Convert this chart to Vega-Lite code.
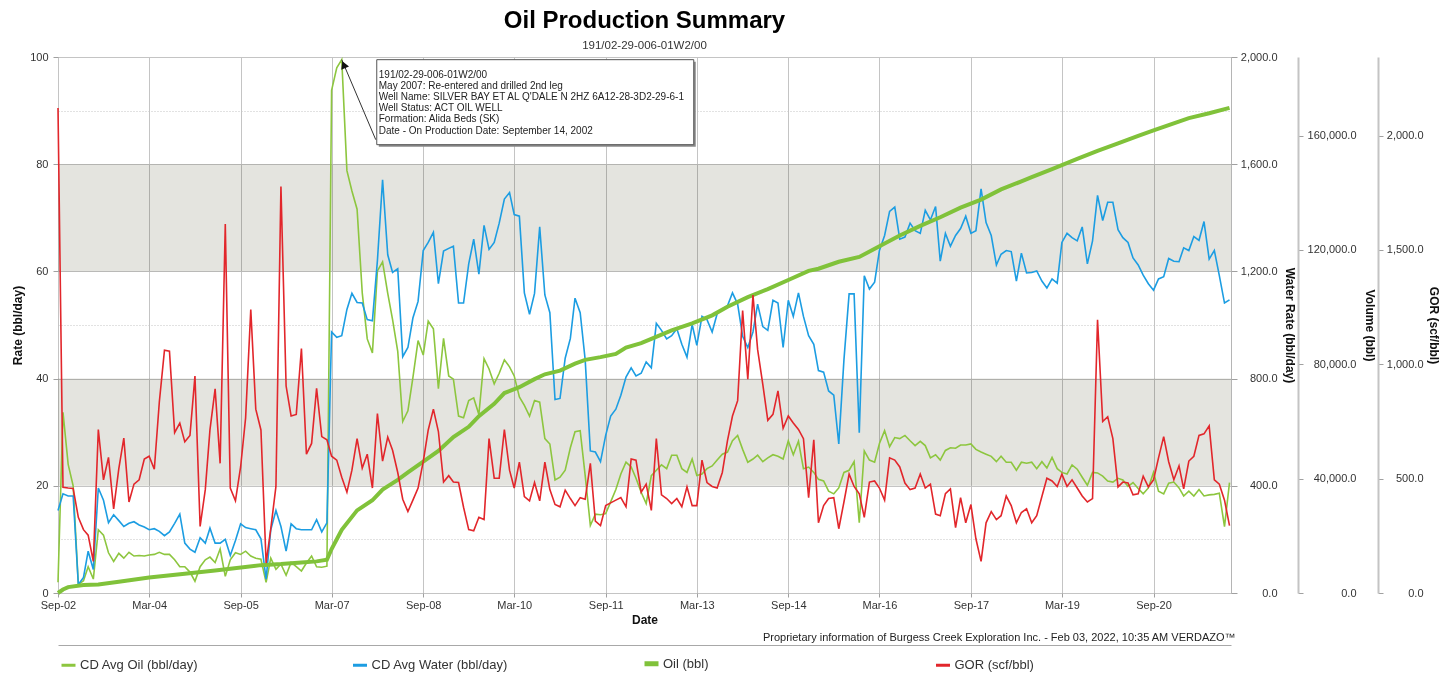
{
"$schema": "https://vega.github.io/schema/vega-lite/v6.json",
"width": 1173, "height": 536,
"autosize": "none",
"padding": {"left": 58, "top": 57, "right": 221, "bottom": 88},
"background": "white",
"title": {"text": "Oil Production Summary", "subtitle": "191/02-29-006-01W2/00", "anchor": "middle", "frame": "group", "font": "Liberation Sans", "fontSize": 24, "fontWeight": "bold", "color": "#000", "subtitleFont": "Liberation Sans", "subtitleFontSize": 11.5, "subtitleColor": "#333", "offset": 0, "subtitlePadding": 7},
"datasets": {
"bands": [{"lo": 20, "hi": 40}, {"lo": 60, "hi": 80}],
"note": [{"d": "2007-05", "p": 99.5, "t": "191/02-29-006-01W2/00\nMay 2007:  Re-entered and drilled 2nd leg\nWell Name: SILVER BAY ET AL Q'DALE N 2HZ 6A12-28-3D2-29-6-1\nWell Status: ACT OIL WELL\nFormation: Alida Beds (SK)\nDate - On Production Date: September 14, 2002"}],
"cum": [
{"d":"2002-09","v":0},{"d":"2002-10","v":1220},{"d":"2002-11","v":2060},{"d":"2003-02","v":2810},{"d":"2003-05","v":3000},{"d":"2003-09","v":3940},{"d":"2004-03","v":5440},{"d":"2004-10","v":6750},{"d":"2005-04","v":7880},{"d":"2006-01","v":9750},{"d":"2006-05","v":10130},{"d":"2006-09","v":10690},{"d":"2006-12","v":11060},{"d":"2007-02","v":11630},{"d":"2007-03","v":15380},{"d":"2007-05","v":22100},{"d":"2007-08","v":28900},{"d":"2007-11","v":32440},{"d":"2008-01","v":36190},{"d":"2008-04","v":39560},{"d":"2008-06","v":42190},{"d":"2008-09","v":45940},{"d":"2008-12","v":49690},{"d":"2009-03","v":54560},{"d":"2009-06","v":58130},{"d":"2009-08","v":61880},{"d":"2009-11","v":66190},{"d":"2010-01","v":69940},{"d":"2010-04","v":72000},{"d":"2010-07","v":74810},{"d":"2010-09","v":76500},{"d":"2010-12","v":77810},{"d":"2011-03","v":80250},{"d":"2011-05","v":81560},{"d":"2011-08","v":82500},{"d":"2011-11","v":83630},{"d":"2012-01","v":85880},{"d":"2012-04","v":87380},{"d":"2012-06","v":88880},{"d":"2012-10","v":91880},{"d":"2013-02","v":94310},{"d":"2013-06","v":97130},{"d":"2013-09","v":100130},{"d":"2014-01","v":103500},{"d":"2014-05","v":106310},{"d":"2014-09","v":109500},{"d":"2015-01","v":112690},{"d":"2015-03","v":113440},{"d":"2015-07","v":115880},{"d":"2015-11","v":117560},{"d":"2016-03","v":121310},{"d":"2016-07","v":125060},{"d":"2016-11","v":128440},{"d":"2017-03","v":131440},{"d":"2017-07","v":134810},{"d":"2017-11","v":137630},{"d":"2018-03","v":141190},{"d":"2018-07","v":144000},{"d":"2018-09","v":145500},{"d":"2019-01","v":148310},{"d":"2019-06","v":151880},{"d":"2019-10","v":154690},{"d":"2020-02","v":157310},{"d":"2020-06","v":159940},{"d":"2020-09","v":161810},{"d":"2020-12","v":163690},{"d":"2021-04","v":166130},{"d":"2021-08","v":167810},{"d":"2021-12","v":169690}
],
"rates": [
{"d":"2002-09","o":2.0,"w":308,"g":2121},{"d":"2002-10","o":33.7,"w":370,"g":462},{"d":"2002-11","o":24,"w":362,"g":459},{"d":"2002-12","o":20,"w":362,"g":457},
{"d":"2003-01","o":1.6,"w":32,"g":331},{"d":"2003-02","o":2.3,"w":58,"g":277},{"d":"2003-03","o":4.9,"w":156,"g":253},{"d":"2003-04","o":2.6,"w":88,"g":138},{"d":"2003-05","o":11.8,"w":392,"g":715},{"d":"2003-06","o":10.8,"w":346,"g":495},{"d":"2003-07","o":7.5,"w":262,"g":593},{"d":"2003-08","o":5.9,"w":292,"g":368},{"d":"2003-09","o":7.4,"w":270,"g":544},{"d":"2003-10","o":6.5,"w":248,"g":677},{"d":"2003-11","o":7.6,"w":260,"g":398},{"d":"2003-12","o":6.9,"w":266,"g":476},
{"d":"2004-01","o":7.0,"w":254,"g":495},{"d":"2004-02","o":6.9,"w":246,"g":586},{"d":"2004-03","o":7.1,"w":236,"g":598},{"d":"2004-04","o":7.2,"w":240,"g":541},{"d":"2004-05","o":7.6,"w":230,"g":834},{"d":"2004-06","o":7.2,"w":214,"g":1062},{"d":"2004-07","o":7.2,"w":228,"g":1057},{"d":"2004-08","o":6.2,"w":260,"g":701},{"d":"2004-09","o":4.9,"w":294,"g":743},{"d":"2004-10","o":4.9,"w":186,"g":661},{"d":"2004-11","o":3.9,"w":164,"g":689},{"d":"2004-12","o":2.2,"w":152,"g":949},
{"d":"2005-01","o":4.9,"w":206,"g":291},{"d":"2005-02","o":6.2,"w":186,"g":452},{"d":"2005-03","o":6.7,"w":242,"g":713},{"d":"2005-04","o":5.7,"w":186,"g":893},{"d":"2005-05","o":8.2,"w":186,"g":567},{"d":"2005-06","o":3.1,"w":200,"g":1613},{"d":"2005-07","o":6.2,"w":140,"g":459},{"d":"2005-08","o":7.5,"w":196,"g":403},{"d":"2005-09","o":7.2,"w":258,"g":551},{"d":"2005-10","o":7.8,"w":244,"g":766},{"d":"2005-11","o":6.9,"w":240,"g":1240},{"d":"2005-12","o":6.5,"w":236,"g":804},
{"d":"2006-01","o":6.3,"w":202,"g":713},{"d":"2006-02","o":2.0,"w":52,"g":131},{"d":"2006-03","o":6.5,"w":236,"g":281},{"d":"2006-04","o":4.4,"w":308,"g":466},{"d":"2006-05","o":5.4,"w":248,"g":1777},{"d":"2006-06","o":3.3,"w":156,"g":905},{"d":"2006-07","o":5.7,"w":258,"g":774},{"d":"2006-08","o":4.9,"w":240,"g":781},{"d":"2006-09","o":4.1,"w":236,"g":1069},{"d":"2006-10","o":5.6,"w":236,"g":607},{"d":"2006-11","o":6.9,"w":236,"g":654},{"d":"2006-12","o":4.9,"w":274,"g":895},
{"d":"2007-01","o":4.8,"w":228,"g":684},{"d":"2007-02","o":5.0,"w":262,"g":670},{"d":"2007-03","o":93.8,"w":974,"g":598},{"d":"2007-04","o":98.0,"w":954,"g":581},{"d":"2007-05","o":99.5,"w":960,"g":506},{"d":"2007-06","o":78.8,"w":1058,"g":441},{"d":"2007-07","o":75.0,"w":1118,"g":537},{"d":"2007-08","o":71.6,"w":1084,"g":675},{"d":"2007-09","o":56.0,"w":1082,"g":546},{"d":"2007-10","o":47.4,"w":1020,"g":607},{"d":"2007-11","o":44.8,"w":1016,"g":459},{"d":"2007-12","o":60.1,"w":1240,"g":785},
{"d":"2008-01","o":61.8,"w":1542,"g":577},{"d":"2008-02","o":55.9,"w":1262,"g":682},{"d":"2008-03","o":51.0,"w":1196,"g":624},{"d":"2008-04","o":45.1,"w":1210,"g":527},{"d":"2008-05","o":32.0,"w":882,"g":410},{"d":"2008-06","o":34.0,"w":916,"g":356},{"d":"2008-07","o":40.2,"w":1026,"g":406},{"d":"2008-08","o":47.1,"w":1088,"g":459},{"d":"2008-09","o":44.4,"w":1278,"g":574},{"d":"2008-10","o":50.7,"w":1308,"g":713},{"d":"2008-11","o":49.3,"w":1346,"g":804},{"d":"2008-12","o":38.1,"w":1154,"g":706},
{"d":"2009-01","o":47.5,"w":1276,"g":485},{"d":"2009-02","o":40.5,"w":1286,"g":513},{"d":"2009-03","o":39.9,"w":1294,"g":485},{"d":"2009-04","o":33.0,"w":1082,"g":483},{"d":"2009-05","o":32.7,"w":1082,"g":375},{"d":"2009-06","o":35.9,"w":1228,"g":277},{"d":"2009-07","o":36.4,"w":1320,"g":272},{"d":"2009-08","o":33.3,"w":1190,"g":331},{"d":"2009-09","o":43.7,"w":1372,"g":321},{"d":"2009-10","o":41.8,"w":1282,"g":675},{"d":"2009-11","o":39.0,"w":1308,"g":502},{"d":"2009-12","o":41.0,"w":1380,"g":502},
{"d":"2010-01","o":43.5,"w":1470,"g":715},{"d":"2010-02","o":42.2,"w":1494,"g":537},{"d":"2010-03","o":40.5,"w":1412,"g":459},{"d":"2010-04","o":36.6,"w":1406,"g":572},{"d":"2010-05","o":35.0,"w":1120,"g":422},{"d":"2010-06","o":33.0,"w":1040,"g":403},{"d":"2010-07","o":35.9,"w":1118,"g":483},{"d":"2010-08","o":35.6,"w":1366,"g":403},{"d":"2010-09","o":28.8,"w":1112,"g":572},{"d":"2010-10","o":27.8,"w":1046,"g":452},{"d":"2010-11","o":21.1,"w":722,"g":387},{"d":"2010-12","o":21.6,"w":726,"g":377},
{"d":"2011-01","o":22.9,"w":876,"g":450},{"d":"2011-02","o":27.1,"w":950,"g":413},{"d":"2011-03","o":30.1,"w":1100,"g":382},{"d":"2011-04","o":30.3,"w":1046,"g":417},{"d":"2011-05","o":21.9,"w":870,"g":410},{"d":"2011-06","o":12.6,"w":530,"g":567},{"d":"2011-07","o":14.7,"w":526,"g":314},{"d":"2011-08","o":14.6,"w":490,"g":295},{"d":"2011-09","o":14.8,"w":588,"g":382},{"d":"2011-10","o":17.0,"w":660,"g":394},{"d":"2011-11","o":19.3,"w":686,"g":406},{"d":"2011-12","o":22.2,"w":738,"g":417},
{"d":"2012-01","o":24.4,"w":806,"g":377},{"d":"2012-02","o":23.5,"w":840,"g":586},{"d":"2012-03","o":21.4,"w":810,"g":581},{"d":"2012-04","o":18.8,"w":820,"g":441},{"d":"2012-05","o":16.7,"w":862,"g":476},{"d":"2012-06","o":21.9,"w":840,"g":361},{"d":"2012-07","o":22.9,"w":1006,"g":675},{"d":"2012-08","o":23.9,"w":980,"g":429},{"d":"2012-09","o":23.2,"w":948,"g":413},{"d":"2012-10","o":25.7,"w":960,"g":391},{"d":"2012-11","o":25.7,"w":986,"g":413},{"d":"2012-12","o":23.2,"w":928,"g":377},
{"d":"2013-01","o":22.5,"w":880,"g":464},{"d":"2013-02","o":25.0,"w":1002,"g":382},{"d":"2013-03","o":21.9,"w":924,"g":382},{"d":"2013-04","o":22.2,"w":1032,"g":581},{"d":"2013-05","o":23.2,"w":1020,"g":483},{"d":"2013-06","o":23.7,"w":974,"g":466},{"d":"2013-07","o":24.8,"w":1042,"g":459},{"d":"2013-08","o":25.9,"w":1058,"g":527},{"d":"2013-09","o":26.3,"w":1072,"g":666},{"d":"2013-10","o":28.4,"w":1120,"g":774},{"d":"2013-11","o":29.4,"w":1078,"g":841},{"d":"2013-12","o":26.8,"w":958,"g":1235},
{"d":"2014-01","o":24.4,"w":916,"g":935},{"d":"2014-02","o":25.0,"w":974,"g":1303},{"d":"2014-03","o":25.7,"w":1078,"g":1064},{"d":"2014-04","o":24.5,"w":994,"g":912},{"d":"2014-05","o":25.2,"w":980,"g":755},{"d":"2014-06","o":25.8,"w":1092,"g":781},{"d":"2014-07","o":25.5,"w":1082,"g":884},{"d":"2014-08","o":25.0,"w":916,"g":720},{"d":"2014-09","o":28.4,"w":1092,"g":774},{"d":"2014-10","o":25.8,"w":1032,"g":743},{"d":"2014-11","o":28.3,"w":1120,"g":715},{"d":"2014-12","o":23.2,"w":1032,"g":675},
{"d":"2015-01","o":23.5,"w":960,"g":417},{"d":"2015-02","o":22.5,"w":928,"g":670},{"d":"2015-03","o":21.2,"w":830,"g":307},{"d":"2015-04","o":20.9,"w":824,"g":382},{"d":"2015-05","o":19.0,"w":754,"g":413},{"d":"2015-06","o":18.5,"w":738,"g":417},{"d":"2015-07","o":19.6,"w":556,"g":281},{"d":"2015-08","o":22.5,"w":870,"g":398},{"d":"2015-09","o":22.9,"w":1116,"g":520},{"d":"2015-10","o":24.5,"w":1116,"g":466},{"d":"2015-11","o":13.1,"w":598,"g":434},{"d":"2015-12","o":26.5,"w":1184,"g":331},
{"d":"2016-01","o":24.8,"w":1134,"g":485},{"d":"2016-02","o":24.4,"w":1160,"g":490},{"d":"2016-03","o":27.9,"w":1278,"g":459},{"d":"2016-04","o":30.3,"w":1334,"g":406},{"d":"2016-05","o":27.3,"w":1424,"g":591},{"d":"2016-06","o":29.0,"w":1440,"g":581},{"d":"2016-07","o":28.8,"w":1320,"g":551},{"d":"2016-08","o":29.4,"w":1328,"g":481},{"d":"2016-09","o":28.4,"w":1380,"g":452},{"d":"2016-10","o":27.5,"w":1352,"g":459},{"d":"2016-11","o":28.3,"w":1342,"g":520},{"d":"2016-12","o":27.5,"w":1428,"g":459},
{"d":"2017-01","o":25.2,"w":1392,"g":476},{"d":"2017-02","o":25.8,"w":1442,"g":345},{"d":"2017-03","o":24.8,"w":1238,"g":338},{"d":"2017-04","o":26.6,"w":1342,"g":434},{"d":"2017-05","o":27.1,"w":1294,"g":455},{"d":"2017-06","o":27.0,"w":1334,"g":286},{"d":"2017-07","o":27.6,"w":1360,"g":417},{"d":"2017-08","o":27.6,"w":1406,"g":307},{"d":"2017-09","o":27.8,"w":1342,"g":387},{"d":"2017-10","o":26.8,"w":1352,"g":237},{"d":"2017-11","o":26.3,"w":1508,"g":138},{"d":"2017-12","o":25.9,"w":1382,"g":307},
{"d":"2018-01","o":25.5,"w":1334,"g":356},{"d":"2018-02","o":24.5,"w":1224,"g":321},{"d":"2018-03","o":25.5,"w":1264,"g":338},{"d":"2018-04","o":24.4,"w":1278,"g":424},{"d":"2018-05","o":24.4,"w":1274,"g":382},{"d":"2018-06","o":22.9,"w":1164,"g":307},{"d":"2018-07","o":24.4,"w":1268,"g":352},{"d":"2018-08","o":24.2,"w":1194,"g":368},{"d":"2018-09","o":24.4,"w":1196,"g":307},{"d":"2018-10","o":23.2,"w":1202,"g":338},{"d":"2018-11","o":24.5,"w":1164,"g":422},{"d":"2018-12","o":23.3,"w":1138,"g":502},
{"d":"2019-01","o":25.3,"w":1172,"g":490},{"d":"2019-02","o":23.2,"w":1156,"g":466},{"d":"2019-03","o":22.5,"w":1308,"g":520},{"d":"2019-04","o":22.2,"w":1342,"g":466},{"d":"2019-05","o":23.9,"w":1326,"g":495},{"d":"2019-06","o":23.1,"w":1314,"g":459},{"d":"2019-07","o":21.6,"w":1366,"g":424},{"d":"2019-08","o":20.1,"w":1228,"g":398},{"d":"2019-09","o":22.5,"w":1314,"g":413},{"d":"2019-10","o":22.4,"w":1484,"g":1195},{"d":"2019-11","o":21.8,"w":1390,"g":750},{"d":"2019-12","o":20.9,"w":1458,"g":771},
{"d":"2020-01","o":20.7,"w":1458,"g":675},{"d":"2020-02","o":21.4,"w":1356,"g":464},{"d":"2020-03","o":21.1,"w":1326,"g":485},{"d":"2020-04","o":19.9,"w":1308,"g":481},{"d":"2020-05","o":20.6,"w":1250,"g":429},{"d":"2020-06","o":19.5,"w":1224,"g":434},{"d":"2020-07","o":18.5,"w":1186,"g":511},{"d":"2020-08","o":19.6,"w":1154,"g":464},{"d":"2020-09","o":22.5,"w":1130,"g":495},{"d":"2020-10","o":19.0,"w":1172,"g":591},{"d":"2020-11","o":18.5,"w":1180,"g":684},{"d":"2020-12","o":20.5,"w":1248,"g":574},
{"d":"2021-01","o":20.7,"w":1238,"g":495},{"d":"2021-02","o":19.6,"w":1236,"g":556},{"d":"2021-03","o":18.1,"w":1288,"g":455},{"d":"2021-04","o":19.0,"w":1278,"g":577},{"d":"2021-05","o":18.1,"w":1330,"g":598},{"d":"2021-06","o":19.3,"w":1316,"g":689},{"d":"2021-07","o":18.1,"w":1386,"g":696},{"d":"2021-08","o":18.3,"w":1246,"g":731},{"d":"2021-09","o":18.4,"w":1278,"g":495},{"d":"2021-10","o":18.6,"w":1184,"g":476},{"d":"2021-11","o":12.4,"w":1082,"g":406},{"d":"2021-12","o":20.6,"w":1094,"g":295}
]
},
"layer": [
{
"data": {"name": "bands"},
"mark": {"type": "rect", "fill": "#e4e4df", "blend": "multiply"},
"encoding": {
"y": {"field": "lo", "type": "quantitative", "scale": {"domain": [0, 100], "nice": false},
"axis": {"orient": "left", "values": [10, 50, 90], "grid": true, "gridColor": "#c4c4c4", "gridDash": [1, 2], "labels": false, "ticks": false, "domain": false, "title": null}},
"y2": {"field": "hi"}
}
},
{
"data": {"name": "rates"},
"mark": {"type": "line", "strokeWidth": 1.6, "color": "#8dc63f"},
"encoding": {
"x": {"field": "d", "type": "temporal",
"scale": {"type": "utc", "domain": [{"year": 2002, "month": 9, "date": 1, "utc": true}, {"year": 2021, "month": 12, "date": 10, "utc": true}]},
"axis": {"orient": "bottom", "values": [
{"year": 2002, "month": 9, "date": 1, "utc": true}, {"year": 2004, "month": 3, "date": 1, "utc": true}, {"year": 2005, "month": 9, "date": 1, "utc": true}, {"year": 2007, "month": 3, "date": 1, "utc": true}, {"year": 2008, "month": 9, "date": 1, "utc": true}, {"year": 2010, "month": 3, "date": 1, "utc": true}, {"year": 2011, "month": 9, "date": 1, "utc": true}, {"year": 2013, "month": 3, "date": 1, "utc": true}, {"year": 2014, "month": 9, "date": 1, "utc": true}, {"year": 2016, "month": 3, "date": 1, "utc": true}, {"year": 2017, "month": 9, "date": 1, "utc": true}, {"year": 2019, "month": 3, "date": 1, "utc": true}, {"year": 2020, "month": 9, "date": 1, "utc": true}],
"format": "%b-%y", "title": "Date", "grid": true, "gridColor": "#c4c4c4", "domain": false, "tickSize": 4, "labelPadding": 2, "labelFlush": false, "labelOverlap": false, "titleY": 26, "titleBaseline": "middle"}},
"y": {"field": "o", "type": "quantitative", "scale": {"domain": [0, 100], "nice": false},
"axis": {"orient": "left", "values": [0, 20, 40, 60, 80, 100], "format": "d", "title": "Rate (bbl/day)", "grid": true, "gridColor": "#c4c4c4", "domain": false, "tickSize": 5, "labelPadding": 5, "titleAngle": 270, "titleX": -41, "titleY": 268, "titleBaseline": "middle", "titleAlign": "center"}},
"color": {"datum": "CD Avg Oil (bbl/day)", "type": "nominal",
"scale": {"domain": ["CD Avg Oil (bbl/day)", "CD Avg Water (bbl/day)", "Oil (bbl)", "GOR (scf/bbl)"], "range": ["#8dc63f", "#1c9de2", "#80c23a", "#e2262b"]},
"legend": {"orient": "none", "legendX": 4, "legendY": 600, "direction": "horizontal", "columns": 4, "gridAlign": "all", "columnPadding": 125.5, "title": null, "symbolType": "stroke", "symbolSize": 196, "symbolStrokeWidth": 3, "labelFontSize": 13, "labelOffset": 5, "labelColor": "#333", "labelFont": "Liberation Sans", "padding": 0,
"encode": {"symbols": {"update": {"strokeWidth": {"signal": "datum.value === 'Oil (bbl)' ? 5 : 3"}}}}}}
}
},
{
"data": {"name": "rates"},
"mark": {"type": "line", "strokeWidth": 1.6, "color": "#1c9de2"},
"encoding": {
"x": {"field": "d", "type": "temporal",
"scale": {"type": "utc", "domain": [{"year": 2002, "month": 9, "date": 1, "utc": true}, {"year": 2021, "month": 12, "date": 10, "utc": true}]},
"axis": {"orient": "bottom", "domain": false, "ticks": false, "labels": false, "grid": false, "title": "Proprietary information of Burgess Creek Exploration Inc. - Feb 03, 2022, 10:35 AM  VERDAZO™", "titleFontWeight": "normal", "titleFontSize": 11, "titleColor": "#222", "titleX": 1177, "titleY": 44, "titleAlign": "right", "titleBaseline": "middle"}},
"y": {"field": "w", "type": "quantitative", "scale": {"domain": [0, 2000], "nice": false},
"axis": {"orient": "right", "values": [0, 400, 800, 1200, 1600, 2000], "format": ",.1f", "grid": false, "domain": false, "tickSize": 6, "labelAlign": "right", "labelPadding": 40, "title": "Water Rate (bbl/day)", "titleAngle": 90, "titleX": 58, "titleY": 268, "titleBaseline": "middle", "titleAlign": "center"}},
"color": {"datum": "CD Avg Water (bbl/day)", "type": "nominal"}
}
},
{
"data": {"name": "cum"},
"mark": {"type": "line", "strokeWidth": 4, "color": "#80c23a"},
"encoding": {
"x": {"field": "d", "type": "temporal",
"scale": {"type": "utc", "domain": [{"year": 2002, "month": 9, "date": 1, "utc": true}, {"year": 2021, "month": 12, "date": 10, "utc": true}]},
"axis": {"orient": "bottom", "offset": 52, "domain": true, "domainColor": "#a8a8a8", "domainWidth": 1, "ticks": false, "labels": false, "grid": false, "title": null}},
"y": {"field": "v", "type": "quantitative", "scale": {"domain": [0, 187500], "nice": false},
"axis": {"orient": "right", "offset": 67, "values": [0, 40000, 80000, 120000, 160000], "format": ",.1f", "grid": false, "domain": true, "domainColor": "#c4c4c4", "domainWidth": 2, "tickSize": 5, "labelAlign": "right", "labelPadding": 53, "title": "Volume (bbl)", "titleAngle": 90, "titleX": 71, "titleY": 268, "titleBaseline": "middle", "titleAlign": "center"}},
"color": {"datum": "Oil (bbl)", "type": "nominal"}
}
},
{
"data": {"name": "rates"},
"mark": {"type": "line", "strokeWidth": 1.6, "color": "#e2262b"},
"encoding": {
"x": {"field": "d", "type": "temporal",
"scale": {"type": "utc", "domain": [{"year": 2002, "month": 9, "date": 1, "utc": true}, {"year": 2021, "month": 12, "date": 10, "utc": true}]}, "axis": null},
"y": {"field": "g", "type": "quantitative", "scale": {"domain": [0, 2343.75], "nice": false},
"axis": {"orient": "right", "offset": 147, "values": [0, 500, 1000, 1500, 2000], "format": ",.1f", "grid": false, "domain": true, "domainColor": "#c4c4c4", "domainWidth": 2, "tickSize": 5, "labelAlign": "right", "labelPadding": 40, "title": "GOR (scf/bbl)", "titleAngle": 90, "titleX": 55, "titleY": 268, "titleBaseline": "middle", "titleAlign": "center"}},
"color": {"datum": "GOR (scf/bbl)", "type": "nominal"}
}
},
{
"data": {"name": "note"},
"encoding": {
"x": {"field": "d", "type": "temporal",
"scale": {"type": "utc", "domain": [{"year": 2002, "month": 9, "date": 1, "utc": true}, {"year": 2021, "month": 12, "date": 10, "utc": true}]}, "axis": null},
"y": {"field": "p", "type": "quantitative", "scale": {"domain": [0, 100], "nice": false}, "axis": null}
},
"layer": [
{"mark": {"type": "rect", "fill": "#8a8a8a", "xOffset": 37, "x2Offset": 354, "yOffset": 2, "y2Offset": 87}, "encoding": {"x2": {"field": "d"}, "y2": {"field": "p"}}},
{"mark": {"type": "rect", "fill": "white", "stroke": "#555", "strokeWidth": 1, "xOffset": 35, "x2Offset": 352, "yOffset": 0, "y2Offset": 85}, "encoding": {"x2": {"field": "d"}, "y2": {"field": "p"}}},
{"mark": {"type": "rule", "color": "#333", "strokeWidth": 1, "x2Offset": 34, "y2Offset": 80}, "encoding": {"x2": {"field": "d"}, "y2": {"field": "p"}}},
{"mark": {"type": "point", "shape": "triangle-up", "filled": true, "size": 70, "angle": -23, "color": "#111", "opacity": 1, "xOffset": 2, "yOffset": 5}},
{"mark": {"type": "text", "align": "left", "baseline": "top", "dx": 37, "dy": 10, "fontSize": 10, "lineHeight": 11.2, "lineBreak": "\n", "color": "#222", "font": "Liberation Sans"}, "encoding": {"text": {"field": "t"}}}
]
}
],
"resolve": {"scale": {"y": "independent"}, "axis": {"x": "independent"}},
"config": {
"font": "Liberation Sans",
"view": {"stroke": "#b5b5b5", "strokeWidth": 1},
"axis": {"labelFont": "Liberation Sans", "titleFont": "Liberation Sans", "labelColor": "#333", "titleColor": "#111", "labelFontSize": 11, "titleFontSize": 12, "titleFontWeight": "bold", "tickColor": "#a0a0a0", "domainColor": "#c4c4c4"}
}
}
